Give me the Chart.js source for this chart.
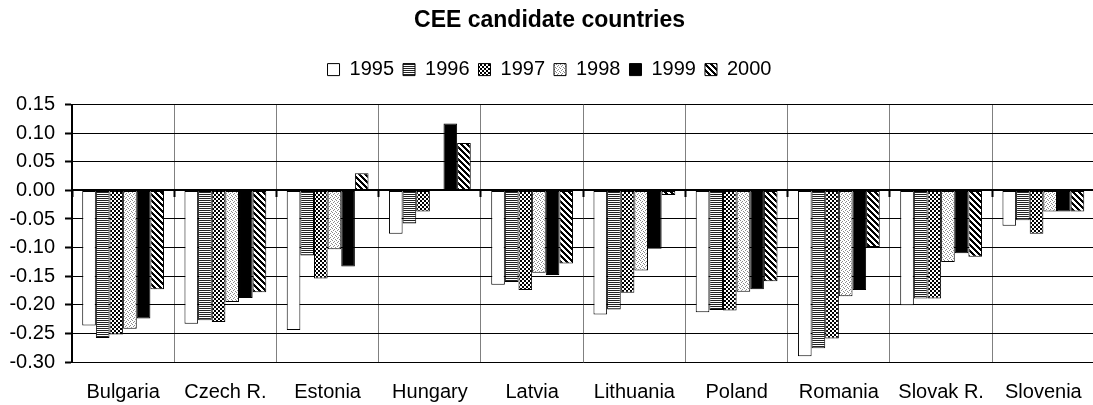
<!DOCTYPE html>
<html>
<head>
<meta charset="utf-8">
<script src="https://cdn.jsdelivr.net/npm/chart.js@4.4.1/dist/chart.umd.min.js"></script>
<style>
  html, body { margin: 0; padding: 0; background: #fff; overflow: hidden; }
  #wrap { width: 1093px; height: 405px; overflow: hidden; }
</style>
</head>
<body>
<div id="wrap"><canvas id="chart" width="1100" height="405"></canvas></div>
<script>
const countries = ['Bulgaria', 'Czech R.', 'Estonia', 'Hungary', 'Latvia', 'Lithuania', 'Poland', 'Romania', 'Slovak R.', 'Slovenia'];
const years = ['1995', '1996', '1997', '1998', '1999', '2000'];

const v1995 = [-0.236, -0.233, -0.244, -0.076, -0.165, -0.217, -0.213, -0.290, -0.201, -0.062];
const v1996 = [-0.258, -0.227, -0.114, -0.058, -0.160, -0.208, -0.209, -0.276, -0.189, -0.052];
const v1997 = [-0.252, -0.230, -0.154, -0.037, -0.174, -0.179, -0.210, -0.259, -0.189, -0.076];
const v1998 = [-0.242, -0.195, -0.103, 0.000, -0.144, -0.140, -0.177, -0.185, -0.125, -0.037];
const v1999 = [-0.224, -0.188, -0.133, 0.117, -0.148, -0.102, -0.173, -0.174, -0.110, -0.037];
const v2000 = [-0.173, -0.178, 0.030, 0.083, -0.128, -0.008, -0.159, -0.099, -0.116, -0.037];

const yTicks = { min: -0.30, max: 0.15, step: 0.05 };

const FONT = '"Liberation Sans", Arial, Helvetica, sans-serif';

// small fill patterns like the old office bar fills
function makePattern(size, paint) {
    const c = document.createElement('canvas');
    c.width = size;
    c.height = size;
    const g = c.getContext('2d');
    g.fillStyle = '#fff';
    g.fillRect(0, 0, size, size);
    paint(g, size);
    return g.createPattern(c, 'repeat');
}

const fills = [
    '#ffffff',
    makePattern(2, g => { g.fillStyle = '#222'; g.fillRect(0, 0, 2, 1); }),
    makePattern(4, g => {
        g.fillStyle = '#000';
        g.fillRect(0, 0, 2, 2);
        g.fillRect(2, 2, 2, 2);
    }),
    makePattern(4, g => {
        g.fillStyle = '#8a8a8a';
        g.fillRect(0, 0, 1, 1);
        g.fillRect(2, 1, 1, 1);
        g.fillRect(1, 2, 1, 1);
        g.fillRect(3, 3, 1, 1);
    }),
    '#000000',
    makePattern(6, g => {
        g.fillStyle = '#000';
        for (let i = 0; i < 6; i++) {
            g.fillRect(i, i, 1, 1);
            g.fillRect(i, (i + 1) % 6, 1, 1);
            g.fillRect(i, (i + 2) % 6, 1, 1);
        }
    })
];

const series = [v1995, v1996, v1997, v1998, v1999, v2000];

const datasets = years.map((y, i) => ({
    label: y,
    data: series[i],
    backgroundColor: fills[i],
    borderColor: '#000',
    borderWidth: 1,
    borderSkipped: false,
    categoryPercentage: 0.8,
    barPercentage: 1.0
}));

new Chart(document.getElementById('chart'), {
    type: 'bar',
    data: { labels: countries, datasets },
    options: {
        responsive: false,
        animation: false,
        devicePixelRatio: 1,
        layout: { padding: { left: 0, right: 1, top: 0, bottom: 0 } },
        plugins: {
            title: {
                display: true,
                text: 'CEE candidate countries',
                color: '#000',
                font: { family: FONT, size: 23, weight: 'bold' },
                padding: { top: 7, bottom: 16 }
            },
            legend: {
                display: true,
                labels: {
                    color: '#000',
                    font: { family: FONT, size: 20 },
                    boxWidth: 12,
                    boxHeight: 12,
                    padding: 9
                }
            },
            tooltip: { enabled: false }
        },
        scales: {
            x: {
                offset: true,
                grid: { display: true, color: '#808080', lineWidth: 1, drawTicks: false, offset: true },
                border: { display: false },
                ticks: { color: '#000', font: { family: FONT, size: 20 }, padding: 18, maxRotation: 0, autoSkip: false },
                afterFit: s => { s.height = 43; }
            },
            xTop: {
                type: 'category',
                position: 'top',
                ticks: { display: false },
                grid: { display: false },
                border: { display: false },
                afterFit: s => { s.height = 15; }
            },
            // axis line sitting on zero, with its tick marks pointing down
            xZero: {
                type: 'category',
                position: { y: 0 },
                offset: true,
                ticks: { display: false },
                grid: { drawOnChartArea: false, drawTicks: true, tickLength: 6, tickWidth: 2, tickColor: '#000', offset: true },
                border: { display: true, color: '#000', width: 2 }
            },
            y: {
                min: yTicks.min,
                max: yTicks.max,
                ticks: {
                    stepSize: yTicks.step,
                    color: '#000',
                    font: { family: FONT, size: 20 },
                    padding: 10,
                    callback: v => (Math.abs(v) < 1e-9 ? 0 : v).toFixed(2)
                },
                grid: { color: '#000', lineWidth: 1, tickLength: 7, tickWidth: 2, tickColor: '#000' },
                border: { display: true, color: '#000', width: 2 },
                afterFit: s => { s.width = 72; }
            }
        }
    }
});
</script>
</body>
</html>
